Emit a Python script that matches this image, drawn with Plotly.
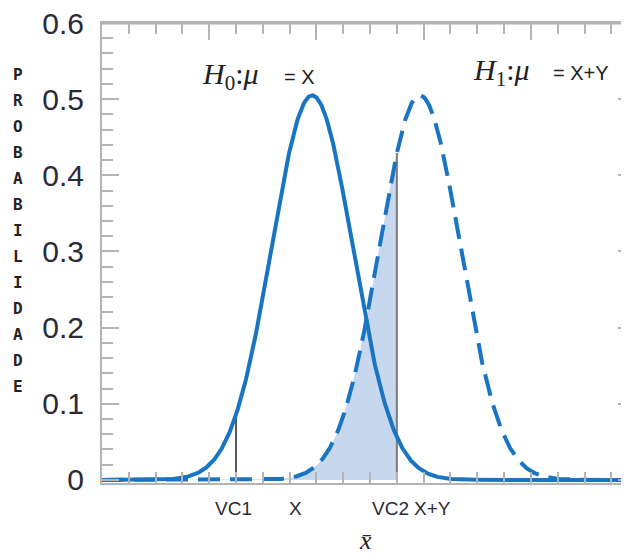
import numpy as np
import plotly.graph_objects as go

# ---- data ----
mu_h0 = 3.92          # centre of the H0 curve
mu_h1 = 5.93          # centre of the H1 curve
sigma = 0.754         # spread of both curves
peak = 0.505          # height of both curves
vc1 = 2.5             # critical value 1
vc2 = 5.5             # critical value 2
x_min, x_max = 0.0, 9.83

y_letters = list("PROBABILIDADE")
x_tick_labels = ["VC1", "X", "VC2", "X+Y"]
x_tick_pos = [2.46, 3.6, 5.39, 6.16]
y_tick_vals = [0, 0.1, 0.2, 0.3, 0.4, 0.5, 0.6]

BLUE = "#1a74c4"
FILL = "#c6d7ee"
GRAY = "#b4b4b4"
TXT = "#2a2a38"

W, H = 621, 548
ML, MT, MB = 94, 15, 73
plot_h = H - MT - MB


def bell(x, mu, s, h):
    return h * np.exp(-0.5 * ((x - mu) / s) ** 2)


xs = np.linspace(x_min, x_max, 800)
y0 = bell(xs, mu_h0, sigma, peak)
y1 = bell(xs, mu_h1, sigma, peak)

xf = xs[xs <= vc2]
xf = np.append(xf, vc2)

fig = go.Figure()
fig.add_trace(go.Scatter(x=xf, y=bell(xf, mu_h1, sigma, peak), mode="lines",
                         line=dict(width=0, color=FILL), fill="tozeroy",
                         fillcolor=FILL, hoverinfo="skip", showlegend=False))
fig.add_trace(go.Scatter(x=[vc1, vc1], y=[0, bell(vc1, mu_h0, sigma, peak)], mode="lines",
                         line=dict(color="#222222", width=1.5), showlegend=False))
fig.add_trace(go.Scatter(x=[vc2, vc2], y=[0, bell(vc2, mu_h1, sigma, peak)], mode="lines",
                         line=dict(color="#7a7a7a", width=2), showlegend=False))
fig.add_trace(go.Scatter(x=xs, y=y1, mode="lines",
                         line=dict(color=BLUE, width=4, dash="22px,10px"), showlegend=False))
fig.add_trace(go.Scatter(x=xs, y=y0, mode="lines",
                         line=dict(color=BLUE, width=4), showlegend=False))
# invisible trace so the top / right tick axes are drawn
fig.add_trace(go.Scatter(x=[x_min], y=[0], xaxis="x2", yaxis="y2", mode="markers",
                         marker=dict(opacity=0), hoverinfo="skip", showlegend=False))

annotations = []
# hypothesis labels
annotations.append(dict(x=1.83, y=0.531, xref="x", yref="y", xanchor="left", yanchor="middle",
                        text="<i>H</i><sub>0</sub>:<i>μ</i>", showarrow=False,
                        font=dict(family="Liberation Serif", size=30, color="#222222")))
annotations.append(dict(x=3.36, y=0.529, xref="x", yref="y", xanchor="left", yanchor="middle",
                        text="= X", showarrow=False,
                        font=dict(family="Liberation Sans", size=20, color="#222222")))
annotations.append(dict(x=6.88, y=0.536, xref="x", yref="y", xanchor="left", yanchor="middle",
                        text="<i>H</i><sub>1</sub>:<i>μ</i>", showarrow=False,
                        font=dict(family="Liberation Serif", size=30, color="#222222")))
annotations.append(dict(x=8.38, y=0.534, xref="x", yref="y", xanchor="left", yanchor="middle",
                        text="= X+Y", showarrow=False,
                        font=dict(family="Liberation Sans", size=20, color="#222222")))
# x labels
for lab, pos in zip(x_tick_labels, x_tick_pos):
    annotations.append(dict(x=pos, y=-0.055, xref="x", yref="paper", xanchor="center",
                            yanchor="middle", text=lab, showarrow=False,
                            font=dict(family="Liberation Sans", size=19, color=TXT)))
annotations.append(dict(x=0.50, y=-0.125, xref="paper", yref="paper", xanchor="center",
                        yanchor="middle", text="<i>x̄</i>", showarrow=False,
                        font=dict(family="Liberation Serif", size=26, color="#222222")))
# vertical y title, letter by letter
for i, ch in enumerate(y_letters):
    py = 74.7 + i * 26.0 - 8
    annotations.append(dict(x=-(102 - 18) / (W - ML), y=(H - MB - py) / plot_h,
                            xref="paper", yref="paper",
                            xanchor="center", yanchor="middle", text="<b>" + ch + "</b>",
                            showarrow=False,
                            font=dict(family="DejaVu Sans Mono", size=16, color="#222222")))

fig.update_layout(
    width=W, height=H,
    margin=dict(l=ML, r=0, t=MT, b=MB, autoexpand=False),
    paper_bgcolor="white", plot_bgcolor="white",
    showlegend=False,
    annotations=annotations,
    shapes=[dict(type="line", xref="paper", yref="paper", x0=0, x1=1, y0=0.999, y1=0.999,
                 line=dict(color="#b0b0b0", width=2), layer="above")],
    xaxis=dict(range=[x_min, x_max], showgrid=False, zeroline=False, automargin=False,
               showline=True, linecolor=GRAY, linewidth=2,
               ticks="inside", tick0=0, dtick=0.5, ticklen=11, tickwidth=2,
               tickcolor=GRAY, showticklabels=False),
    xaxis2=dict(overlaying="x", range=[x_min, x_max], side="top", anchor="y",
                automargin=False, showgrid=False, zeroline=False,
                showline=True, linecolor=GRAY, linewidth=2,
                ticks="inside", tick0=0, dtick=2, ticklen=17, tickwidth=2, tickcolor=GRAY,
                minor=dict(ticks="inside", dtick=0.5, ticklen=11, tickwidth=2, tickcolor=GRAY),
                showticklabels=False),
    yaxis=dict(range=[-0.004, 0.6], showgrid=False, zeroline=False, automargin=False,
               showline=True, linecolor=GRAY, linewidth=2,
               ticks="inside", tickmode="array", tickvals=y_tick_vals,
               ticklen=17, tickwidth=2, tickcolor=GRAY,
               minor=dict(ticks="inside", dtick=0.02, tick0=0, ticklen=11, tickwidth=2,
                          tickcolor=GRAY),
               tickfont=dict(family="Liberation Sans", size=30, color=TXT),
               ticklabelstandoff=10, ticklabeloverflow="allow"),
    yaxis2=dict(overlaying="y", range=[-0.004, 0.6], side="right", anchor="x",
                automargin=False, showgrid=False, zeroline=False, showline=False,
                ticks="inside", tickmode="array", tickvals=y_tick_vals,
                ticklen=11, tickwidth=2, tickcolor=GRAY,
                minor=dict(ticks="inside", dtick=0.02, tick0=0, ticklen=4, tickwidth=2,
                           tickcolor=GRAY),
                showticklabels=False),
)

fig.write_html("out.html")
